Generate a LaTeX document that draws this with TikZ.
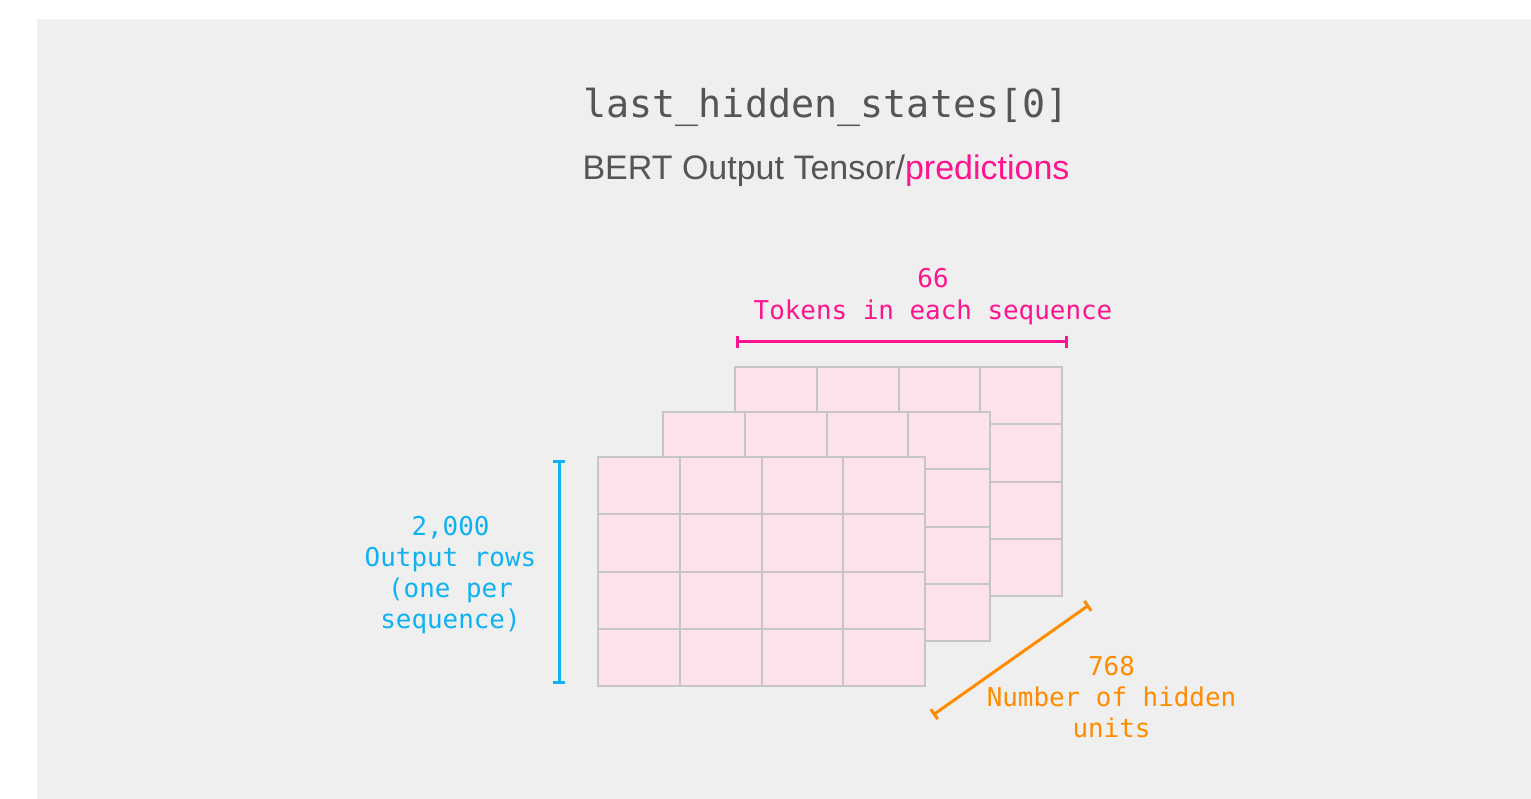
\documentclass[tikz,border=0pt]{standalone}
\usepackage{fontspec}
\setmainfont{Liberation Sans}
\newfontfamily\monof{DejaVu Sans Mono}
\usetikzlibrary{arrows.meta}
\definecolor{bgray}{HTML}{EFEFEF}
\definecolor{txtgray}{HTML}{555555}
\definecolor{hotpink}{RGB}{255,20,143}
\definecolor{skyblue}{RGB}{15,178,240}
\definecolor{darkorange}{RGB}{255,140,0}
\definecolor{cellfill}{HTML}{FDE3E9}
\definecolor{cellline}{HTML}{C6C6C6}
\tikzset{
  cell/.style={draw=cellline, fill=cellfill, line width=2pt},
  lbl/.style={anchor=base, inner sep=0pt, font=\monof\fontsize{25.9}{30}\selectfont},
  dimline/.style={line width=3pt, {Bar[width=12pt,line width=3pt]}-{Bar[width=12pt,line width=3pt]}}
}
\begin{document}
\begin{tikzpicture}[x=1pt,y=-1pt]
\useasboundingbox (0,0) rectangle (1531,799);
\fill[white] (0,0) rectangle (1531,799);
\fill[bgray] (37,19) rectangle (1531,799);
% title
\node[anchor=base, inner sep=0pt, text=txtgray, font=\monof\fontsize{38.4}{40}\selectfont] (title) at (826,117.5) {last\_hidden\_states[0]};
\node[anchor=base, inner sep=0pt, text=txtgray, font=\fontsize{34}{38}\selectfont] (subtitle) at (826,180) {BERT Output Tensor/\textcolor{hotpink}{predictions}};
% tensor layers
\foreach \ox/\oy in {735/367, 663/412, 598/457} {
  \foreach \i in {0,...,3} {
    \foreach \j in {0,...,3} {
      \draw[cell] ({\ox+\i*81.75},{\oy+\j*57.25}) rectangle ++(81.75,57.25);
    }
  }
}
% pink dimension
\coordinate (pa) at (736,342);
\coordinate (pb) at (1068,342);
\draw[dimline, hotpink] (pa) -- (pb);
\node[lbl, text=hotpink] (p1) at (933,288) {66};
\node[lbl, text=hotpink] (p2) at (933,320) {Tokens in each sequence};
% blue dimension
\coordinate (ba) at (559,460);
\coordinate (bb) at (559,684);
\draw[dimline, skyblue] (ba) -- (bb);
\node[lbl, text=skyblue] (b1) at (450.5,535) {2,000};
\node[lbl, text=skyblue] (b2) at (450.5,566) {Output rows};
\node[lbl, text=skyblue] (b3) at (450.5,597) {(one per};
\node[lbl, text=skyblue] (b4) at (450.5,628) {sequence)};
% orange dimension
\coordinate (oa) at (933,715);
\coordinate (ob) at (1089,605);
\draw[dimline, darkorange] (oa) -- (ob);
\node[lbl, text=darkorange] (o1) at (1111.5,675) {768};
\node[lbl, text=darkorange] (o2) at (1111.5,706) {Number of hidden};
\node[lbl, text=darkorange] (o3) at (1111.5,737) {units};
\end{tikzpicture}
\end{document}
